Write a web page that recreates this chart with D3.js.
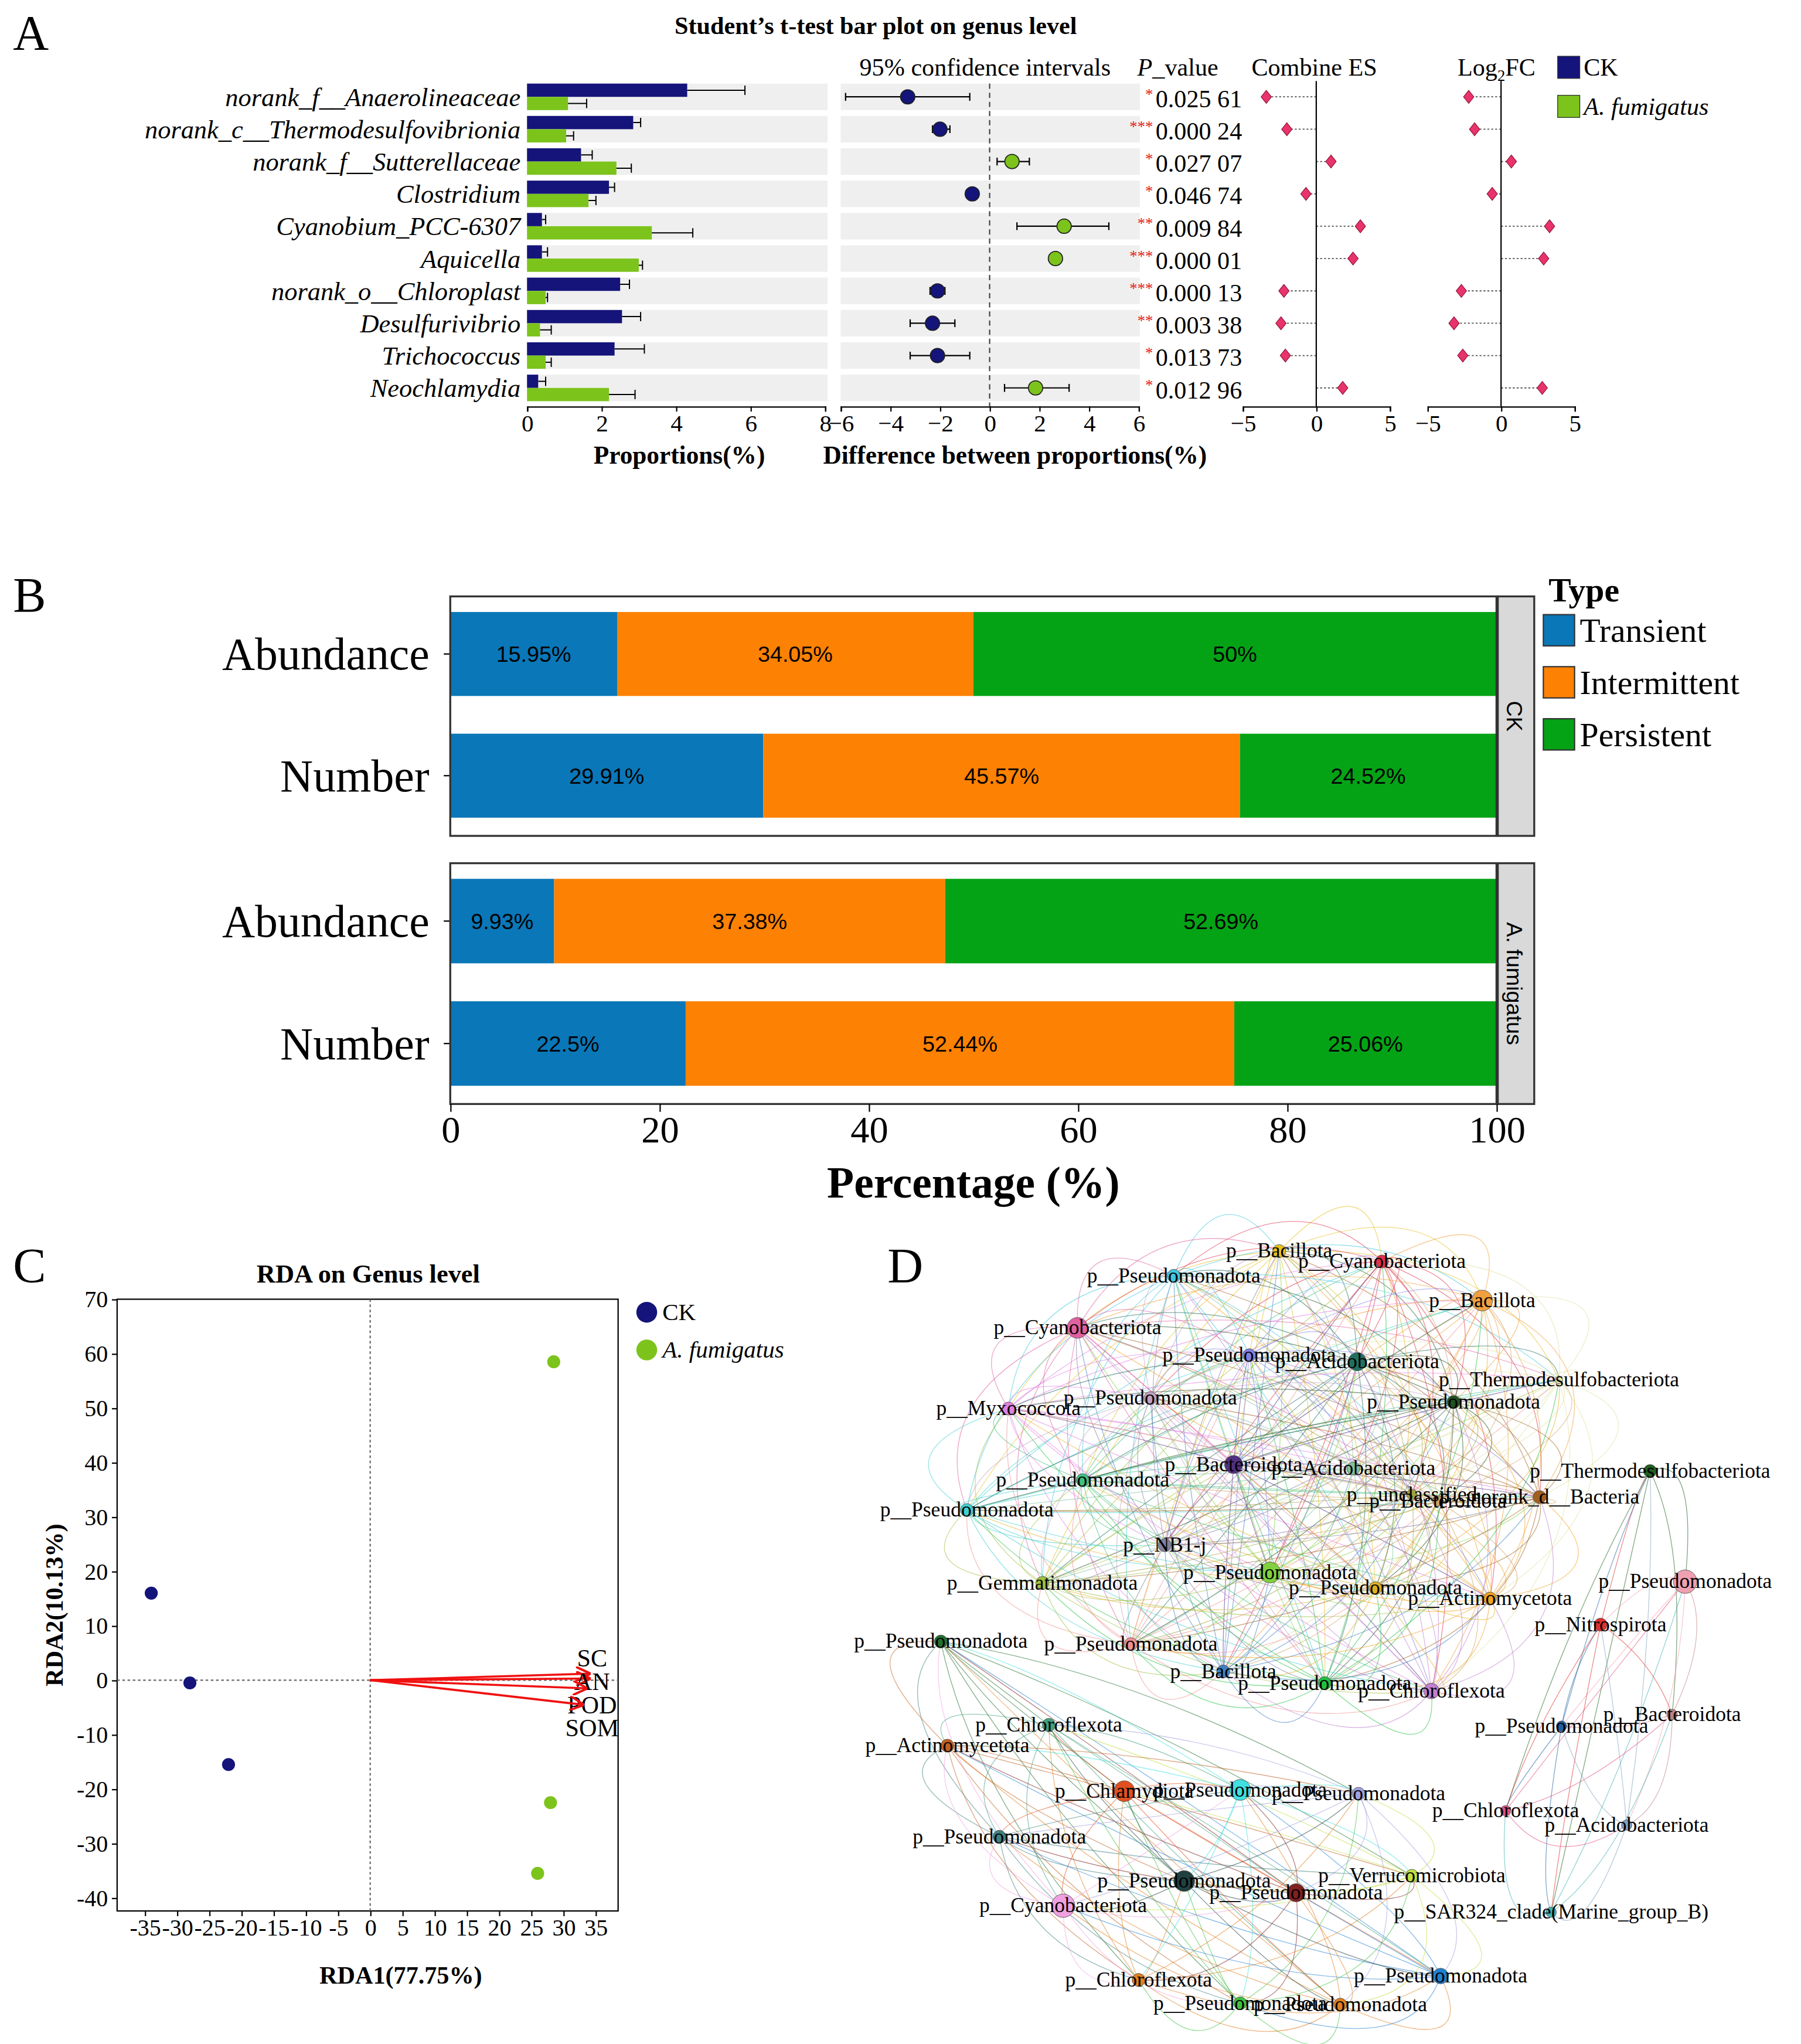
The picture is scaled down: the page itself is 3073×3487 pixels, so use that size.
<!DOCTYPE html>
<html><head><meta charset="utf-8">
<script src="https://cdn.jsdelivr.net/npm/d3@7"></script>
<style>body{margin:0;background:#fff}svg{display:block}</style>
</head><body>
<svg id="fig" width="3073" height="3487" viewBox="0 0 1384 1570"></svg>
<script>
// ---------- Panel A data ----------
const genera = ["norank_f__Anaerolineaceae","norank_c__Thermodesulfovibrionia","norank_f__Sutterellaceae","Clostridium","Cyanobium_PCC-6307","Aquicella","norank_o__Chloroplast","Desulfurivibrio","Trichococcus","Neochlamydia"];
const ckProp = [4.3,2.85,1.45,2.2,0.4,0.4,2.5,2.55,2.35,0.3];
const ckErr = [1.55,0.2,0.3,0.15,0.1,0.15,0.25,0.5,0.8,0.2];
const afProp = [1.1,1.05,2.4,1.65,3.35,3.0,0.5,0.35,0.5,2.2];
const afErr = [0.5,0.2,0.4,0.2,1.1,0.1,0.05,0.3,0.15,0.7];
const diff = [-3.3,-2.0,0.9,-0.7,3.0,2.65,-2.1,-2.3,-2.1,1.85];
const diffLo = [-5.8,-2.3,0.3,-0.9,1.1,2.5,-2.4,-3.2,-3.2,0.6];
const diffHi = [-0.8,-1.6,1.6,-0.5,4.8,2.8,-1.8,-1.4,-0.8,3.2];
const pStars = ["*","***","*","*","**","***","***","**","*","*"];
const pVals = ["0.025 61","0.000 24","0.027 07","0.046 74","0.009 84","0.000 01","0.000 13","0.003 38","0.013 73","0.012 96"];
const combES = [-3.4,-2.0,1.0,-0.7,3.0,2.5,-2.2,-2.4,-2.1,1.8];
const log2FC = [-2.2,-1.8,0.7,-0.6,3.3,2.9,-2.7,-3.2,-2.6,2.8];
const propTicks = [0,2,4,6,8], diffTicks = [-6,-4,-2,0,2,4,6], esTicks = [-5,0,5];

// ---------- Panel B data ----------
const bTypes = ["Transient","Intermittent","Persistent"];
const bColors = ["#0a77b8","#fd8103","#04a316"];
const bGroups = ["CK","A. fumigatus"];
const bRows = ["Abundance","Number"];
const bValues = [[[15.95,34.05,50],[29.91,45.57,24.52]],[[9.93,37.38,52.69],[22.5,52.44,25.06]]];
const bTicks = [0,20,40,60,80,100];

// ---------- Panel C data ----------
const rdaCK = [[-34,16],[-28,-0.5],[-22,-15.5]];
const rdaAF = [[28.5,58.5],[28,-22.5],[26,-35.5]];
const envNames = ["SC","AN","POD","SOM"];
const envVec = [[34,1.2],[34,0.3],[33.5,-1.5],[33,-4.5]];
const rdaXTicks = [-35,-30,-25,-20,-15,-10,-5,0,5,10,15,20,25,30,35];
const rdaYTicks = [-40,-30,-20,-10,0,10,20,30,40,50,60,70];

// ---------- Panel D data (label, module, x, y, radius, colour) ----------
const netNodes = [
["Bacillota",1,983,961,5,"#e8c020"],["Cyanobacteriota",1,1062,969,5,"#e0304a"],["Pseudomonadota",1,902,980,5,"#40c8e0"],
["Bacillota",1,1139,999,8,"#f0a040"],["Cyanobacteriota",1,828,1020,8,"#e060a0"],["Pseudomonadota",1,960,1041,5,"#8080e0"],
["Acidobacteriota",1,1043,1046,7,"#207060"],["Thermodesulfobacteriota",1,1198,1060,3,"#e0e0a0"],["Pseudomonadota",1,1117,1077,5,"#205020"],
["Myxococcota",1,775,1082,5,"#e080e0"],["Pseudomonadota",1,884,1074,5,"#c0a0c0"],["Bacteroidota",1,948,1125,7,"#503080"],
["Acidobacteriota",1,1040,1128,5,"#80c0a0"],["Pseudomonadota",1,832,1137,5,"#40c080"],["unclassified",1,1085,1148,4,"#a0a040"],
["Bacteroidota",1,1105,1153,4,"#d0a060"],["norank_d__Bacteria",1,1183,1150,5,"#a06020"],["Pseudomonadota",1,743,1160,5,"#40d0d0"],
["NB1-j",1,895,1187,5,"#8080a0"],["Gemmatimonadota",1,801,1216,5,"#a0c040"],["Pseudomonadota",1,976,1208,8,"#80d040"],
["Pseudomonadota",1,1057,1220,5,"#e0b020"],["Actinomycetota",1,1145,1228,5,"#f0a020"],["Pseudomonadota",1,869,1263,5,"#f09090"],
["Bacillota",1,940,1284,5,"#4080c0"],["Pseudomonadota",1,1018,1293,5,"#20c040"],["Chloroflexota",1,1100,1299,6,"#c080d0"],
["Thermodesulfobacteriota",3,1268,1130,5,"#206020"],["Pseudomonadota",3,1295,1215,9,"#f0a0b0"],["Nitrospirota",3,1230,1248,5,"#e03030"],
["Bacteroidota",3,1285,1317,4,"#c08080"],["Pseudomonadota",3,1200,1326,4,"#2060a0"],["Chloroflexota",3,1157,1391,4,"#e05080"],
["Acidobacteriota",3,1250,1402,4,"#80a0c0"],["SAR324_clade(Marine_group_B)",3,1192,1469,4,"#40b0b0"],
["Pseudomonadota",2,723,1261,5,"#207030"],["Chloroflexota",2,806,1325,5,"#40a080"],["Actinomycetota",2,728,1341,5,"#c06020"],
["Chlamydiota",2,864,1376,8,"#e05020"],["Pseudomonadota",2,953,1375,8,"#40e0e0"],["Pseudomonadota",2,1044,1378,5,"#a0a0e0"],
["Pseudomonadota",2,768,1411,5,"#408080"],["Pseudomonadota",2,910,1445,8,"#204040"],["Pseudomonadota",2,996,1454,7,"#802020"],
["Verrucomicrobiota",2,1085,1441,5,"#c0e040"],["Cyanobacteriota",2,817,1464,9,"#f0a0e0"],["Chloroflexota",2,875,1521,5,"#e08020"],
["Pseudomonadota",2,1107,1518,6,"#2080d0"],["Pseudomonadota",2,953,1539,5,"#40c040"],["Pseudomonadota",2,1030,1540,5,"#e08020"]
];

const svg = d3.select("#fig");
const serif = "'Liberation Serif','Times New Roman',serif";
const sans = "'Liberation Sans',Arial,sans-serif";
svg.attr("font-family", serif);
const navy = "#14147a", lime = "#7cc41c";

function styleAxis(g, fs) {
  g.selectAll("text").attr("font-family", serif).attr("font-size", fs).attr("fill", "#000");
  g.selectAll("line,path").attr("stroke", "#000");
}
function letter(t, x, y) {
  svg.append("text").attr("x", x).attr("y", y).attr("font-size", 38).text(t);
}

// ================= Panel A =================
letter("A", 10, 38);
svg.append("text").attr("x", 673).attr("y", 26).attr("text-anchor", "middle")
  .attr("font-size", 19).attr("font-weight", "bold").text("Student\u2019s t-test bar plot on genus level");
const rowY = d3.scaleBand().domain(d3.range(genera.length)).range([64, 308]).paddingInner(0.18);
const xp = d3.scaleLinear().domain([0, 8]).range([405, 634]);
const xd = d3.scaleLinear().domain([-6, 6]).range([646, 875]);
const xe = d3.scaleLinear().domain([-5, 5]).range([955, 1068]);
const xl = d3.scaleLinear().domain([-5, 5]).range([1097, 1210]);
const aBot = 312;

const A = svg.append("g");
genera.forEach((g, i) => {
  const y0 = rowY(i), h = rowY.bandwidth();
  A.append("rect").attr("x", 405).attr("y", y0).attr("width", 231).attr("height", h).attr("fill", "#efefef");
  A.append("rect").attr("x", 646).attr("y", y0).attr("width", 230).attr("height", h).attr("fill", "#efefef");
  A.append("text").attr("x", 400).attr("y", y0 + h / 2 + 7).attr("text-anchor", "end")
    .attr("font-size", 20).attr("font-style", "italic").text(g);
  const bh = h / 2;
  [[ckProp, ckErr, navy, 0], [afProp, afErr, lime, 1]].forEach(([v, e, c, k]) => {
    const yy = y0 + k * bh;
    A.append("rect").attr("x", xp(0)).attr("y", yy).attr("width", xp(v[i]) - xp(0)).attr("height", bh).attr("fill", c);
    A.append("path").attr("d", `M${xp(v[i])},${yy + bh / 2}H${xp(v[i] + e[i])}M${xp(v[i] + e[i])},${yy + 1.5}V${yy + bh - 1.5}`)
      .attr("stroke", "#000").attr("stroke-width", 0.9).attr("fill", "none");
  });
  const cy = y0 + h / 2;
  const col = diff[i] < 0 ? navy : lime;
  A.append("path").attr("d", `M${xd(diffLo[i])},${cy}H${xd(diffHi[i])}M${xd(diffLo[i])},${cy - 3}V${cy + 3}M${xd(diffHi[i])},${cy - 3}V${cy + 3}`)
    .attr("stroke", "#000").attr("stroke-width", 1);
  A.append("circle").attr("cx", xd(diff[i])).attr("cy", cy).attr("r", 5.5).attr("fill", col).attr("stroke", "#222").attr("stroke-width", 0.8);
  A.append("text").attr("x", 886).attr("y", cy + 2).attr("text-anchor", "end").attr("fill", "#e0201c").attr("font-size", 12).text(pStars[i]);
  A.append("text").attr("x", 888).attr("y", cy + 8).attr("font-size", 19).text(pVals[i]);
  [[xe, combES], [xl, log2FC]].forEach(([s, v]) => {
    A.append("line").attr("x1", s(0)).attr("x2", s(v[i])).attr("y1", cy).attr("y2", cy)
      .attr("stroke", "#555").attr("stroke-width", 0.8).attr("stroke-dasharray", "1.5,1.5");
    A.append("path").attr("transform", `translate(${s(v[i])},${cy})`).attr("d", "M0,-5L4,0L0,5L-4,0Z")
      .attr("fill", "#e8336c").attr("stroke", "#8a1030").attr("stroke-width", 0.5);
  });
});
A.append("line").attr("x1", xd(0)).attr("x2", xd(0)).attr("y1", 64).attr("y2", aBot)
  .attr("stroke", "#444").attr("stroke-dasharray", "4,3");
A.append("line").attr("x1", xe(0)).attr("x2", xe(0)).attr("y1", 62).attr("y2", aBot).attr("stroke", "#000");
A.append("line").attr("x1", xl(0)).attr("x2", xl(0)).attr("y1", 62).attr("y2", aBot).attr("stroke", "#000");
[[xp, propTicks], [xd, diffTicks], [xe, esTicks], [xl, esTicks]].forEach(([s, t]) => {
  A.append("g").attr("transform", `translate(0,${aBot})`)
    .call(d3.axisBottom(s).tickValues(t).tickSize(4).tickPadding(2).tickFormat(d3.format("d")))
    .call(g => styleAxis(g, 18.5));
});
A.append("text").attr("x", 522).attr("y", 356).attr("text-anchor", "middle").attr("font-size", 19.5).attr("font-weight", "bold").text("Proportions(%)");
A.append("text").attr("x", 780).attr("y", 356).attr("text-anchor", "middle").attr("font-size", 19.5).attr("font-weight", "bold").text("Difference between proportions(%)");
A.append("text").attr("x", 757).attr("y", 58).attr("text-anchor", "middle").attr("font-size", 19).text("95% confidence intervals");
A.append("text").attr("x", 874).attr("y", 58).attr("font-size", 19).html('<tspan font-style="italic">P</tspan>_value');
A.append("text").attr("x", 1010).attr("y", 58).attr("text-anchor", "middle").attr("font-size", 19).text("Combine ES");
A.append("text").attr("x", 1150).attr("y", 58).attr("text-anchor", "middle").attr("font-size", 19)
  .html('Log<tspan font-size="12" dy="4">2</tspan><tspan dy="-4">FC</tspan>');
[[navy, "CK", 52, false], [lime, "A. fumigatus", 82, true]].forEach(([c, t, y, it]) => {
  A.append("rect").attr("x", 1197).attr("y", y - 9).attr("width", 17).attr("height", 17).attr("fill", c).attr("stroke", "#333").attr("stroke-width", 0.6);
  A.append("text").attr("x", 1217).attr("y", y + 6).attr("font-size", 19).attr("font-style", it ? "italic" : "normal").text(t);
});

// ================= Panel B =================
letter("B", 10, 470);
const xb = d3.scaleLinear().domain([0, 100]).range([346, 1150]);
const facets = [[458, 642], [663, 848]];
const B = svg.append("g");
bGroups.forEach((grp, gi) => {
  const [t, b] = facets[gi];
  const yb = d3.scaleBand().domain(bRows).range([t + 12, b - 14]).paddingInner(0.31);
  bRows.forEach((r, ri) => {
    let acc = 0;
    bValues[gi][ri].forEach((v, k) => {
      B.append("rect").attr("x", xb(acc)).attr("y", yb(r)).attr("width", xb(acc + v) - xb(acc)).attr("height", yb.bandwidth()).attr("fill", bColors[k]);
      B.append("text").attr("x", xb(acc + v / 2)).attr("y", yb(r) + yb.bandwidth() / 2 + 6)
        .attr("text-anchor", "middle").attr("font-family", sans).attr("font-size", 17).text(v + "%");
      acc += v;
    });
    const cy = yb(r) + yb.bandwidth() / 2;
    B.append("line").attr("x1", 341).attr("x2", 346).attr("y1", cy).attr("y2", cy).attr("stroke", "#000");
    B.append("text").attr("x", 330).attr("y", cy + 12).attr("text-anchor", "end").attr("font-size", 35).text(r);
  });
  B.append("rect").attr("x", 346).attr("y", t).attr("width", 804).attr("height", b - t).attr("fill", "none").attr("stroke", "#333").attr("stroke-width", 1.5);
  B.append("rect").attr("x", 1151).attr("y", t).attr("width", 28).attr("height", b - t).attr("fill", "#d9d9d9").attr("stroke", "#333").attr("stroke-width", 1.5);
  B.append("text").attr("transform", `translate(1158,${(t + b) / 2}) rotate(90)`).attr("text-anchor", "middle")
    .attr("font-family", sans).attr("font-size", 17).text(grp);
});
B.append("g").attr("transform", "translate(0,848)")
  .call(d3.axisBottom(xb).tickValues(bTicks).tickSize(6).tickPadding(3)).call(g => { styleAxis(g, 29); g.select(".domain").remove(); });
B.append("text").attr("x", 748).attr("y", 920).attr("text-anchor", "middle").attr("font-size", 34).attr("font-weight", "bold").text("Percentage (%)");
B.append("text").attr("x", 1190).attr("y", 462).attr("font-size", 26).attr("font-weight", "bold").text("Type");
bTypes.forEach((t, k) => {
  const y = 472 + k * 40;
  B.append("rect").attr("x", 1186).attr("y", y).attr("width", 24).attr("height", 24).attr("fill", bColors[k]).attr("stroke", "#333");
  B.append("text").attr("x", 1214).attr("y", y + 21).attr("font-size", 26).text(t);
});

// ================= Panel C =================
letter("C", 10, 985);
const xr = d3.scaleLinear().domain([-39.3, 38.5]).range([90, 475]);
const yr = d3.scaleLinear().domain([-42.4, 70]).range([1468, 998]);
const C = svg.append("g");
C.append("text").attr("x", 283).attr("y", 985).attr("text-anchor", "middle").attr("font-size", 20).attr("font-weight", "bold").text("RDA on Genus level");
C.append("rect").attr("x", 90).attr("y", 998).attr("width", 385).attr("height", 470).attr("fill", "none").attr("stroke", "#000");
C.append("line").attr("x1", xr(0)).attr("x2", xr(0)).attr("y1", 998).attr("y2", 1468).attr("stroke", "#666").attr("stroke-dasharray", "2,2");
C.append("line").attr("x1", 90).attr("x2", 475).attr("y1", yr(0)).attr("y2", yr(0)).attr("stroke", "#666").attr("stroke-dasharray", "2,2");
C.append("g").attr("transform", "translate(0,1468)")
  .call(d3.axisBottom(xr).tickValues(rdaXTicks).tickSize(4).tickPadding(2).tickFormat(d => String(d))).call(g => { styleAxis(g, 18); g.select(".domain").remove(); });
C.append("g").attr("transform", "translate(90,0)")
  .call(d3.axisLeft(yr).tickValues(rdaYTicks).tickSize(4).tickPadding(3).tickFormat(d => String(d))).call(g => { styleAxis(g, 18); g.select(".domain").remove(); });
C.append("text").attr("x", 308).attr("y", 1524).attr("text-anchor", "middle").attr("font-size", 19).attr("font-weight", "bold").text("RDA1(77.75%)");
C.append("text").attr("transform", "translate(48,1233) rotate(-90)").attr("text-anchor", "middle").attr("font-size", 19).attr("font-weight", "bold").text("RDA2(10.13%)");
C.append("defs").append("marker").attr("id", "arr").attr("viewBox", "0 0 10 10").attr("refX", 9).attr("refY", 5)
  .attr("markerWidth", 7).attr("markerHeight", 7).attr("orient", "auto")
  .append("path").attr("d", "M0,0L10,5L0,10").attr("fill", "none").attr("stroke", "#f01010").attr("stroke-width", 1.6);
envVec.forEach(([vx, vy], i) => {
  C.append("line").attr("x1", xr(0)).attr("y1", yr(0)).attr("x2", xr(vx)).attr("y2", yr(vy))
    .attr("stroke", "#f01010").attr("stroke-width", 1.6).attr("marker-end", "url(#arr)");
  C.append("text").attr("x", 455).attr("y", 1280 + i * 18).attr("text-anchor", "middle").attr("font-size", 19).text(envNames[i]);
});
rdaCK.forEach(([a, b]) => C.append("circle").attr("cx", xr(a)).attr("cy", yr(b)).attr("r", 5).attr("fill", navy));
rdaAF.forEach(([a, b]) => C.append("circle").attr("cx", xr(a)).attr("cy", yr(b)).attr("r", 5).attr("fill", lime));
[[navy, "CK", 1008, false], [lime, "A. fumigatus", 1037, true]].forEach(([c, t, y, it]) => {
  C.append("circle").attr("cx", 497).attr("cy", y).attr("r", 8).attr("fill", c);
  C.append("text").attr("x", 509).attr("y", y + 6).attr("font-size", 18.5).attr("font-style", it ? "italic" : "normal").text(t);
});

// ================= Panel D =================
letter("D", 682, 985);
const D = svg.append("g");
const E = D.append("g").attr("fill", "none");
const cx = {1: [955, 1135], 2: [910, 1400], 3: [1230, 1300]};
netNodes.forEach((a, i) => {
  netNodes.forEach((b, j) => {
    if (j <= i || a[1] !== b[1]) return;
    const [mx, my] = cx[a[1]];
    const px = (a[2] + b[2]) / 2, py = (a[3] + b[3]) / 2;
    const qx = px + (px - mx) * 0.45, qy = py + (py - my) * 0.45;
    E.append("path").attr("d", `M${a[2]},${a[3]}Q${qx},${qy} ${b[2]},${b[3]}`)
      .attr("stroke", (i + j) % 2 ? a[5] : b[5]).attr("stroke-width", 0.6).attr("stroke-opacity", 0.55);
  });
});
netNodes.forEach(n => {
  D.append("circle").attr("cx", n[2]).attr("cy", n[3]).attr("r", n[4]).attr("fill", n[5]).attr("stroke", "#555").attr("stroke-width", 0.4);
});
netNodes.forEach(n => {
  D.append("text").attr("x", n[2]).attr("y", n[3] + 5).attr("text-anchor", "middle").attr("font-size", 16).text("p__" + n[0]);
});
</script>
</body></html>
